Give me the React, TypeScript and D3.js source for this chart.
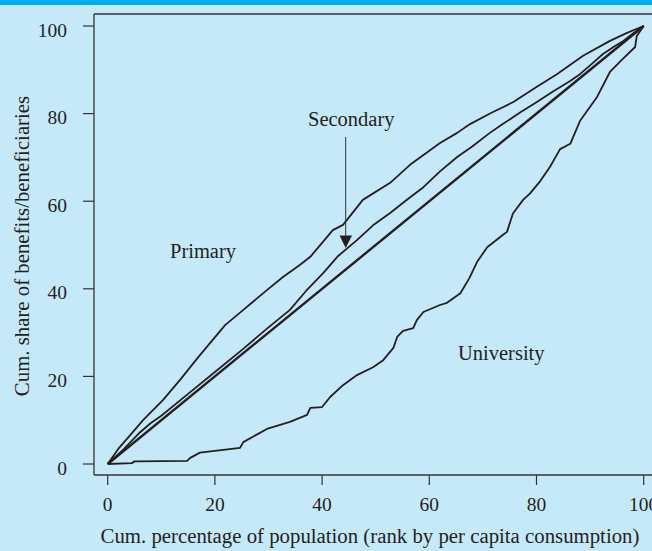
import React from "react";
import * as d3 from "d3";

const xTicks = [0, 20, 40, 60, 80, 100];
const yTicks = [0, 20, 40, 60, 80, 100];

const diagX = [0, 100];
const diagY = [0, 100];

const primaryX = [0, 2, 4.2, 6.6, 10.3, 13.5, 16.9, 21.9, 25.3, 29.7, 32.7, 35.9, 37.8, 42, 43.9, 47.6, 52.7, 56.4, 62, 65.2, 67.6, 71.6, 75.6, 80, 83.8, 88.7, 93.7, 97, 100];
const primaryY = [0, 3.5, 6.6, 10, 14.6, 19.2, 24.4, 31.7, 35.2, 39.7, 42.7, 45.5, 47.3, 53.4, 54.6, 60.3, 64.2, 68.3, 73.3, 75.6, 77.6, 80.2, 82.6, 86.1, 89, 93.2, 96.6, 98.5, 100];

const secondaryX = [0, 3, 6, 8, 10, 15, 20, 25, 30, 34, 37, 40.2, 43, 46.5, 49.5, 52.7, 56, 58.9, 62, 65.2, 68, 71.3, 73.7, 77, 80, 83, 86.2, 88.1, 90, 92.4, 94.5, 96.2, 98, 100];
const secondaryY = [0, 3.4, 7.2, 9.3, 11, 16, 21, 26, 31.2, 35.2, 39.5, 43.6, 47.5, 51.1, 54.5, 57.3, 60.5, 63.2, 66.8, 70.1, 72.5, 75.6, 77.6, 80.3, 82.6, 85, 87.4, 89, 91, 93.6, 95.3, 96.6, 98.3, 100];

const universityX = [0, 4.5, 5, 14.8, 15.4, 17.2, 24.7, 25.3, 29.7, 34, 37.2, 37.8, 40, 41.5, 43.9, 46.5, 49.5, 51.4, 53.3, 54, 55.1, 57, 57.7, 58.9, 62, 63.3, 65.8, 67.5, 68.9, 70.8, 73.7, 74.5, 75.6, 77.5, 78.8, 80.7, 82.5, 84.4, 86.3, 88.1, 91.3, 93.7, 96.1, 98.4, 98.7, 100];
const universityY = [0, 0.2, 0.6, 0.7, 1.4, 2.6, 3.7, 5, 8, 9.6, 11.2, 12.8, 13, 15.3, 18, 20.3, 22.1, 23.7, 26.5, 29, 30.4, 31, 32.9, 34.7, 36.3, 36.8, 39, 42.5, 46.1, 49.5, 52.3, 53, 57.2, 60.3, 61.8, 64.6, 67.8, 71.9, 73.1, 78.3, 83.8, 89.5, 92.5, 95.2, 97.7, 100];

const xTitle = "Cum. percentage of population (rank by per capita consumption)";
const yTitle = "Cum. share of benefits/beneficiaries";

const W = 652;
const H = 551;
const ink = "#231f20";
const font = "'Liberation Serif', 'Times New Roman', serif";

export default function App() {
  const x = d3.scaleLinear().domain([0, 100]).range([107.7, 643.7]);
  const y = d3.scaleLinear().domain([0, 100]).range([464, 26]);
  const line = d3
    .line<[number, number]>()
    .x((d) => x(d[0]))
    .y((d) => y(d[1]));
  const zip = (a: number[], b: number[]) => a.map((v, i) => [v, b[i]] as [number, number]);

  const axisLeft = 94;
  const axisTop = 14;
  const axisBottom = 475;

  return (
    <svg width={W} height={H} style={{ position: "absolute", left: 0, top: 0 }} fontFamily={font}>
      <rect x={0} y={0} width={W} height={H} fill="#c6e9fa" />
      <rect x={0} y={0} width={W} height={5} fill="#00aeef" />
      {/* frame */}
      <line x1={axisLeft} y1={axisTop} x2={W} y2={axisTop} stroke="#333" strokeWidth={1.3} />
      <line x1={axisLeft} y1={axisTop} x2={axisLeft} y2={axisBottom} stroke="#333" strokeWidth={1.3} />
      <line x1={axisLeft} y1={axisBottom} x2={W} y2={axisBottom} stroke="#333" strokeWidth={1.3} />
      {/* y ticks */}
      {yTicks.map((t) => (
        <g key={"y" + t}>
          <line x1={83} x2={axisLeft} y1={y(t)} y2={y(t)} stroke="#333" strokeWidth={1.2} />
          <text x={67} y={y(t) + 10.5} textAnchor="end" fontSize={19.5} fill={ink}>
            {t}
          </text>
        </g>
      ))}
      {/* x ticks */}
      {xTicks.map((t) => (
        <g key={"x" + t}>
          <line x1={x(t)} x2={x(t)} y1={axisBottom} y2={485} stroke="#333" strokeWidth={1.2} />
          <text x={x(t)} y={510.5} textAnchor="middle" fontSize={19.5} fill={ink}>
            {t}
          </text>
        </g>
      ))}
      <text x={370} y={542.5} textAnchor="middle" fontSize={20.8} fill={ink}>
        {xTitle}
      </text>
      <text
        transform={`translate(29,246) rotate(-90)`}
        textAnchor="middle"
        fontSize={20.8}
        fill={ink}
      >
        {yTitle}
      </text>
      {/* curves */}
      <path d={line(zip(diagX, diagY)) || ""} fill="none" stroke={ink} strokeWidth={2.4} />
      <path d={line(zip(secondaryX, secondaryY)) || ""} fill="none" stroke={ink} strokeWidth={1.8} strokeLinejoin="round" />
      <path d={line(zip(primaryX, primaryY)) || ""} fill="none" stroke={ink} strokeWidth={1.8} strokeLinejoin="round" />
      <path d={line(zip(universityX, universityY)) || ""} fill="none" stroke={ink} strokeWidth={1.8} strokeLinejoin="round" />
      {/* labels */}
      <text x={170} y={257.5} fontSize={20.5} fill={ink}>Primary</text>
      <text x={308} y={126} fontSize={20.5} fill={ink}>Secondary</text>
      <text x={458} y={360} fontSize={20.5} fill={ink}>University</text>
      {/* arrow */}
      <line x1={345.7} y1={137} x2={345.7} y2={236} stroke="#333" strokeWidth={1} />
      <path d="M339.5,235.5 L352,235.5 L345.7,248 Z" fill={ink} />
    </svg>
  );
}
